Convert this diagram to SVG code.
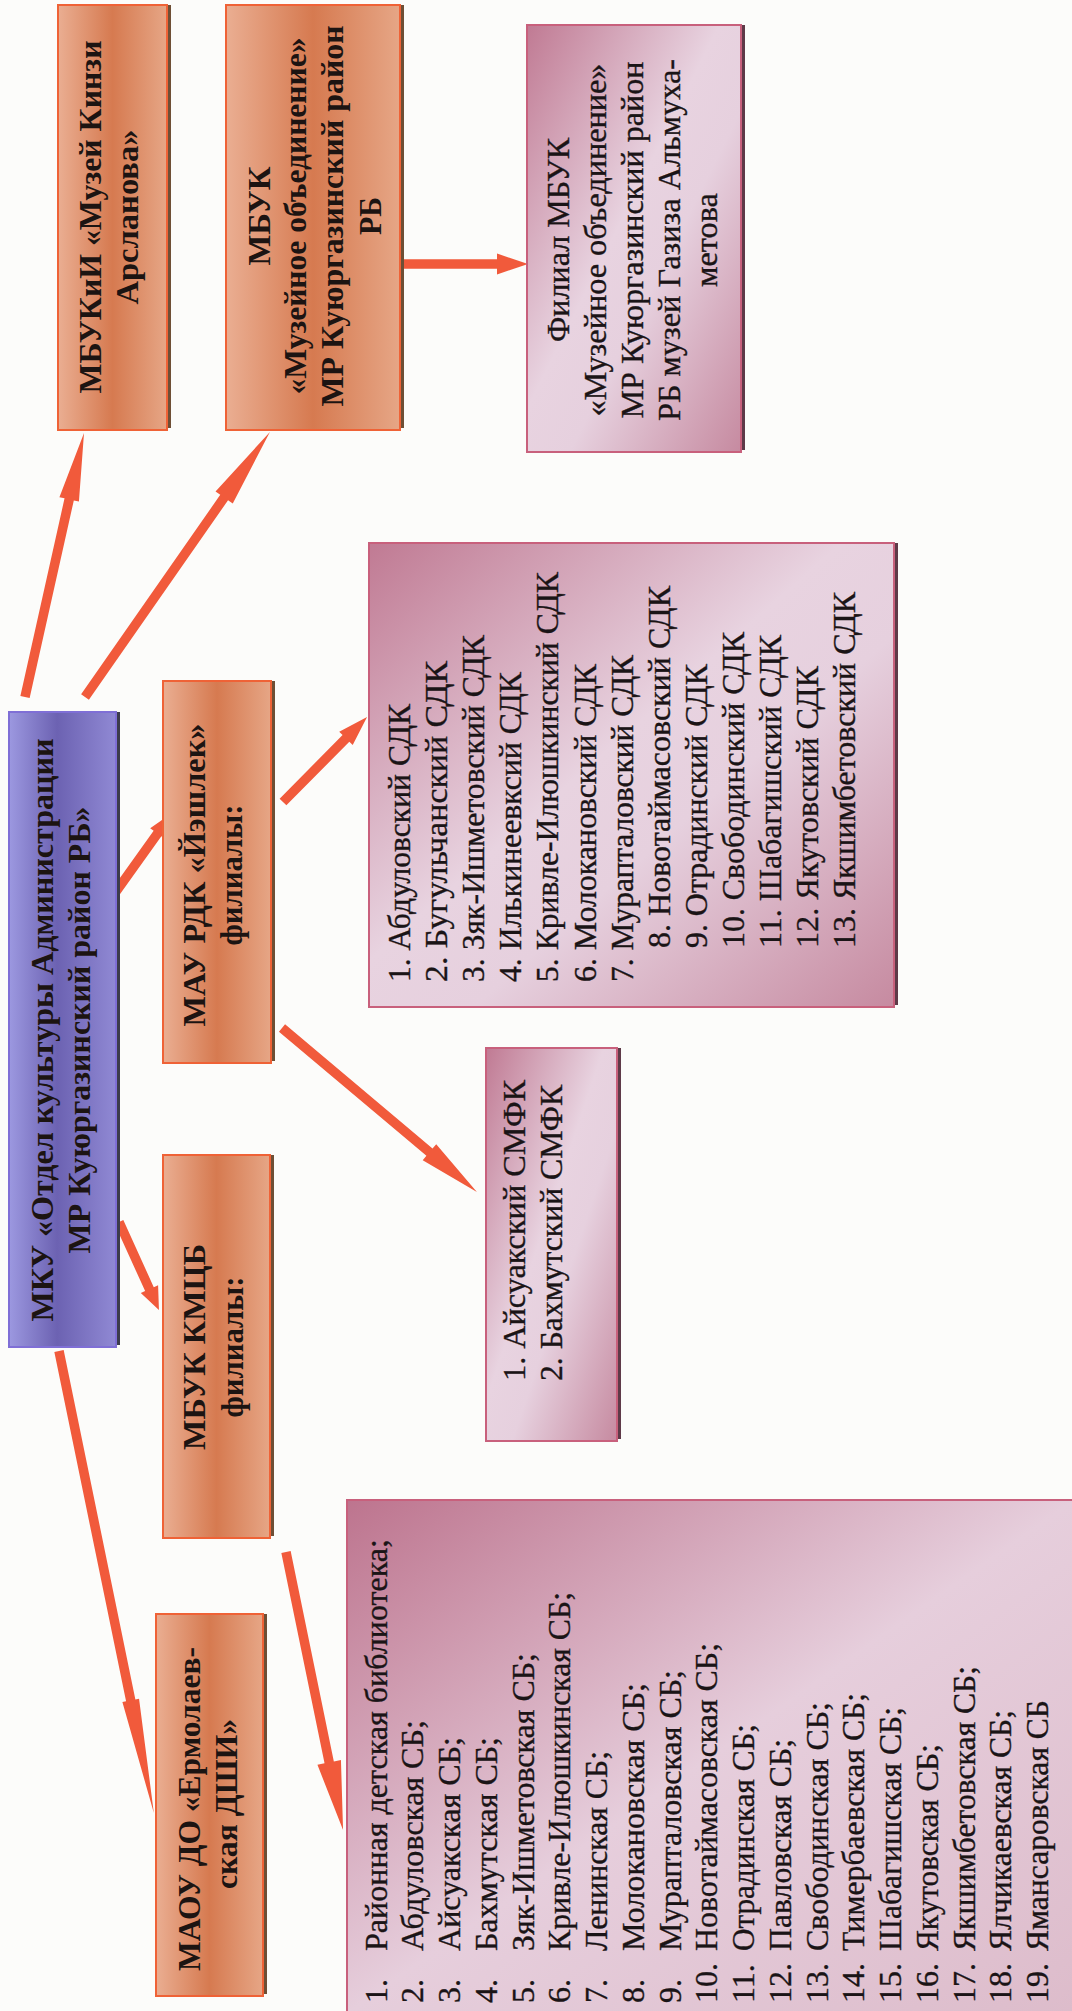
<svg xmlns="http://www.w3.org/2000/svg" width="1072" height="2011" viewBox="0 0 1072 2011">
<defs>
<linearGradient id="gOr" x1="0" y1="0" x2="1" y2="0">
<stop offset="0" stop-color="#eaae92"/><stop offset="0.5" stop-color="#d67a50"/><stop offset="1" stop-color="#e6a686"/>
</linearGradient>
<linearGradient id="gPu" x1="0" y1="0" x2="1" y2="0">
<stop offset="0" stop-color="#9c98e0"/><stop offset="0.45" stop-color="#6c62b2"/><stop offset="1" stop-color="#9089d4"/>
</linearGradient>
<linearGradient id="gPk" x1="0" y1="0" x2="1" y2="1">
<stop offset="0" stop-color="#c07a93"/><stop offset="0.45" stop-color="#e8d3e0"/><stop offset="0.6" stop-color="#e6d0de"/><stop offset="1" stop-color="#c68aa0"/>
</linearGradient>
<linearGradient id="gLib" x1="0" y1="0" x2="1" y2="1">
<stop offset="0" stop-color="#bd748e"/><stop offset="0.5" stop-color="#e6cedc"/><stop offset="1" stop-color="#ddbccb"/>
</linearGradient>
</defs>
<style>
.bg{fill:#fcfcfa}
.or{fill:url(#gOr);stroke:#ef6236;stroke-width:2}
.orS{fill:#6e4f35}
.pu{fill:url(#gPu);stroke:#7f6fd6;stroke-width:2}
.puS{fill:#3c3c4c}
.pk{fill:url(#gPk);stroke:#c8607c;stroke-width:2}
.lib{fill:url(#gLib);stroke:#c8607c;stroke-width:2}
.pkS{fill:#5e3a48}
.b{font-family:"Liberation Serif","Times New Roman",serif;font-weight:bold;font-size:32px;fill:#1c1412}
.r{font-family:"Liberation Serif","Times New Roman",serif;font-size:31px;fill:#1a1416;stroke:#1a1416;stroke-width:0.35}
.l{font-family:"Liberation Serif","Times New Roman",serif;font-size:32px;fill:#1a1416;stroke:#1a1416;stroke-width:0.35}
.m{text-anchor:middle}
.arr{fill:#f15a3b}
</style>
<rect class="bg" x="0" y="0" width="1072" height="2011"/>

<g id="connectors">
<polygon class="arr" transform="translate(25,697) rotate(-77.4)" points="0,-4.75 202.5,-4.75 202.5,-10 270.5,0 202.5,10 202.5,4.75 0,4.75"/>
<polygon class="arr" transform="translate(85,697) rotate(-55.1)" points="0,-4.75 243.2,-4.75 243.2,-10.5 323.2,0 243.2,10.5 243.2,4.75 0,4.75"/>
<polygon class="arr" transform="translate(400,264)" points="0,-4.75 97,-4.75 97,-10.5 128,0 97,10.5 97,4.75 0,4.75"/>
<polygon class="arr" transform="translate(115,893) rotate(-54.5)" points="0,-4.75 73.2,-4.75 73.2,-9 98.2,0 73.2,9 73.2,4.75 0,4.75"/>
<polygon class="arr" transform="translate(283,802) rotate(-45.3)" points="0,-4.75 89.5,-4.75 89.5,-9.5 119.5,0 89.5,9.5 89.5,4.75 0,4.75"/>
<polygon class="arr" transform="translate(282,1028) rotate(40.1)" points="0,-4.75 192.8,-4.75 192.8,-10.5 254.8,0 192.8,10.5 192.8,4.75 0,4.75"/>
<polygon class="arr" transform="translate(119,1222) rotate(65.6)" points="0,-4.75 73.7,-4.75 73.7,-9.5 96.7,0 73.7,9.5 73.7,4.75 0,4.75"/>
<polygon class="arr" transform="translate(59,1351) rotate(78.4)" points="0,-4.75 356.7,-4.75 356.7,-8.5 471.7,0 356.7,8.5 356.7,4.75 0,4.75"/>
<polygon class="arr" transform="translate(286,1552) rotate(78.4)" points="0,-4.75 214.8,-4.75 214.8,-12 283.8,0 214.8,12 214.8,4.75 0,4.75"/>
</g>

<g id="node-mbukii">
<rect class="orS" x="62" y="5" width="109" height="423"/>
<rect class="or" x="58" y="5" width="109" height="425"/>
<text class="b m" transform="translate(101,217) rotate(-90)" textLength="353" lengthAdjust="spacingAndGlyphs">МБУКиИ «Музей Кинзи</text>
<text class="b m" transform="translate(138,217) rotate(-90)" textLength="175" lengthAdjust="spacingAndGlyphs">Арсланова»</text>
</g>

<g id="node-mbuk-museum">
<rect class="orS" x="230" y="5" width="174" height="423"/>
<rect class="or" x="226" y="5" width="174" height="425"/>
<text class="b m" transform="translate(270,216) rotate(-90)" textLength="99" lengthAdjust="spacingAndGlyphs">МБУК</text>
<text class="b m" transform="translate(306,216) rotate(-90)" textLength="357" lengthAdjust="spacingAndGlyphs">«Музейное объединение»</text>
<text class="b m" transform="translate(343,216) rotate(-90)" textLength="381" lengthAdjust="spacingAndGlyphs">МР Куюргазинский район</text>
<text class="b m" transform="translate(381,216) rotate(-90)" textLength="38" lengthAdjust="spacingAndGlyphs">РБ</text>
</g>

<g id="node-filial">
<rect class="pkS" x="531" y="25" width="214" height="425"/>
<rect class="pk" x="527" y="25" width="214" height="427"/>
<text class="r m" transform="translate(569,240) rotate(-90)" textLength="204" lengthAdjust="spacingAndGlyphs">Филиал МБУК</text>
<text class="r m" transform="translate(606,240) rotate(-90)" textLength="353" lengthAdjust="spacingAndGlyphs">«Музейное объединение»</text>
<text class="r m" transform="translate(643,240) rotate(-90)" textLength="357" lengthAdjust="spacingAndGlyphs">МР Куюргазинский район</text>
<text class="r m" transform="translate(680,240) rotate(-90)" textLength="362" lengthAdjust="spacingAndGlyphs">РБ музей Газиза Альмуха-</text>
<text class="r m" transform="translate(717,240) rotate(-90)" textLength="94" lengthAdjust="spacingAndGlyphs">метова</text>
</g>

<g id="node-mku">
<rect class="puS" x="13" y="712" width="107" height="633"/>
<rect class="pu" x="9" y="712" width="107" height="635"/>
<text class="b m" transform="translate(53,1030) rotate(-90)" textLength="583" lengthAdjust="spacingAndGlyphs">МКУ «Отдел культуры Администрации</text>
<text class="b m" transform="translate(90,1030) rotate(-90)" textLength="447" lengthAdjust="spacingAndGlyphs">МР Куюргазинский район РБ»</text>
</g>

<g id="node-mau">
<rect class="orS" x="167" y="681" width="108" height="380"/>
<rect class="or" x="163" y="681" width="108" height="382"/>
<text class="b m" transform="translate(205,875) rotate(-90)" textLength="303" lengthAdjust="spacingAndGlyphs">МАУ РДК «Йэшлек»</text>
<text class="b m" transform="translate(242,875) rotate(-90)" textLength="141" lengthAdjust="spacingAndGlyphs">филиалы:</text>
</g>

<g id="node-kmcb">
<rect class="orS" x="167" y="1155" width="107" height="381"/>
<rect class="or" x="163" y="1155" width="107" height="383"/>
<text class="b m" transform="translate(205,1347) rotate(-90)" textLength="206" lengthAdjust="spacingAndGlyphs">МБУК КМЦБ</text>
<text class="b m" transform="translate(243,1347) rotate(-90)" textLength="141" lengthAdjust="spacingAndGlyphs">филиалы:</text>
</g>

<g id="node-maou">
<rect class="orS" x="160" y="1614" width="107" height="380"/>
<rect class="or" x="156" y="1614" width="107" height="382"/>
<text class="b m" transform="translate(200,1809) rotate(-90)" textLength="324" lengthAdjust="spacingAndGlyphs">МАОУ ДО «Ермолаев-</text>
<text class="b m" transform="translate(237,1804) rotate(-90)" textLength="170" lengthAdjust="spacingAndGlyphs">ская ДШИ»</text>
</g>

<g id="node-sdk">
<rect class="pkS" x="373" y="543" width="525" height="462"/>
<rect class="pk" x="369" y="543" width="525" height="464"/>
<text class="r" transform="translate(410,982) rotate(-90)" textLength="278" lengthAdjust="spacingAndGlyphs">1. Абдуловский СДК</text>
<text class="r" transform="translate(447.1,982) rotate(-90)" textLength="321" lengthAdjust="spacingAndGlyphs">2. Бугульчанский СДК</text>
<text class="r" transform="translate(484.2,982) rotate(-90)" textLength="347" lengthAdjust="spacingAndGlyphs">3. Зяк-Ишметовский СДК</text>
<text class="r" transform="translate(521.3,982) rotate(-90)" textLength="310" lengthAdjust="spacingAndGlyphs">4. Илькинеевксий СДК</text>
<text class="r" transform="translate(558.4,982) rotate(-90)" textLength="410" lengthAdjust="spacingAndGlyphs">5. Кривле-Илюшкинский СДК</text>
<text class="r" transform="translate(595.5,982) rotate(-90)" textLength="318" lengthAdjust="spacingAndGlyphs">6. Молокановский СДК</text>
<text class="r" transform="translate(632.6,982) rotate(-90)" textLength="327" lengthAdjust="spacingAndGlyphs">7. Мурапталовский СДК</text>
<text class="r" transform="translate(669.7,948) rotate(-90)" textLength="362" lengthAdjust="spacingAndGlyphs">8. Новотаймасовский СДК</text>
<text class="r" transform="translate(706.8,948) rotate(-90)" textLength="284" lengthAdjust="spacingAndGlyphs">9. Отрадинский СДК</text>
<text class="r" transform="translate(743.9,948) rotate(-90)" textLength="316" lengthAdjust="spacingAndGlyphs">10. Свободинский СДК</text>
<text class="r" transform="translate(781,948) rotate(-90)" textLength="313" lengthAdjust="spacingAndGlyphs">11. Шабагишский СДК</text>
<text class="r" transform="translate(818.1,948) rotate(-90)" textLength="282" lengthAdjust="spacingAndGlyphs">12. Якутовский СДК</text>
<text class="r" transform="translate(855.2,948) rotate(-90)" textLength="356" lengthAdjust="spacingAndGlyphs">13. Якшимбетовский СДК</text>
</g>

<g id="node-smfk">
<rect class="pkS" x="490" y="1048" width="131" height="391"/>
<rect class="pk" x="486" y="1048" width="131" height="393"/>
<text class="r" transform="translate(525,1381) rotate(-90)" textLength="301" lengthAdjust="spacingAndGlyphs">1. Айсуакский СМФК</text>
<text class="r" transform="translate(562,1381) rotate(-90)" textLength="296" lengthAdjust="spacingAndGlyphs">2. Бахмутский СМФК</text>
</g>

<g id="node-library">
<rect class="lib" x="347" y="1500" width="727" height="513"/>
<g class="l">
<text transform="translate(386.5,2003) rotate(-90)">1.</text>
<text transform="translate(386.5,1951) rotate(-90)" textLength="412" lengthAdjust="spacingAndGlyphs">Районная детская библиотека;</text>
<text transform="translate(423.3,2003) rotate(-90)">2.</text>
<text transform="translate(423.3,1951) rotate(-90)" textLength="231" lengthAdjust="spacingAndGlyphs">Абдуловская СБ;</text>
<text transform="translate(460,2003) rotate(-90)">3.</text>
<text transform="translate(460,1951) rotate(-90)" textLength="214" lengthAdjust="spacingAndGlyphs">Айсуакская СБ;</text>
<text transform="translate(496.8,2003) rotate(-90)">4.</text>
<text transform="translate(496.8,1951) rotate(-90)" textLength="214" lengthAdjust="spacingAndGlyphs">Бахмутская СБ;</text>
<text transform="translate(533.5,2003) rotate(-90)">5.</text>
<text transform="translate(533.5,1951) rotate(-90)" textLength="298" lengthAdjust="spacingAndGlyphs">Зяк-Ишметовская СБ;</text>
<text transform="translate(570.3,2003) rotate(-90)">6.</text>
<text transform="translate(570.3,1951) rotate(-90)" textLength="359" lengthAdjust="spacingAndGlyphs">Кривле-Илюшкинская СБ;</text>
<text transform="translate(607,2003) rotate(-90)">7.</text>
<text transform="translate(607,1951) rotate(-90)" textLength="200" lengthAdjust="spacingAndGlyphs">Ленинская СБ;</text>
<text transform="translate(643.8,2003) rotate(-90)">8.</text>
<text transform="translate(643.8,1951) rotate(-90)" textLength="268" lengthAdjust="spacingAndGlyphs">Молокановская СБ;</text>
<text transform="translate(680.5,2003) rotate(-90)">9.</text>
<text transform="translate(680.5,1951) rotate(-90)" textLength="281" lengthAdjust="spacingAndGlyphs">Мурапталовская СБ;</text>
<text transform="translate(717.3,2003) rotate(-90)">10.</text>
<text transform="translate(717.3,1951) rotate(-90)" textLength="308" lengthAdjust="spacingAndGlyphs">Новотаймасовская СБ;</text>
<text transform="translate(754,2003) rotate(-90)">11.</text>
<text transform="translate(754,1951) rotate(-90)" textLength="227" lengthAdjust="spacingAndGlyphs">Отрадинская СБ;</text>
<text transform="translate(790.8,2003) rotate(-90)">12.</text>
<text transform="translate(790.8,1951) rotate(-90)" textLength="212" lengthAdjust="spacingAndGlyphs">Павловская СБ;</text>
<text transform="translate(827.5,2003) rotate(-90)">13.</text>
<text transform="translate(827.5,1951) rotate(-90)" textLength="249" lengthAdjust="spacingAndGlyphs">Свободинская СБ;</text>
<text transform="translate(864.3,2003) rotate(-90)">14.</text>
<text transform="translate(864.3,1951) rotate(-90)" textLength="258" lengthAdjust="spacingAndGlyphs">Тимербаевская СБ;</text>
<text transform="translate(901,2003) rotate(-90)">15.</text>
<text transform="translate(901,1951) rotate(-90)" textLength="244" lengthAdjust="spacingAndGlyphs">Шабагишская СБ;</text>
<text transform="translate(937.8,2003) rotate(-90)">16.</text>
<text transform="translate(937.8,1951) rotate(-90)" textLength="207" lengthAdjust="spacingAndGlyphs">Якутовская СБ;</text>
<text transform="translate(974.5,2003) rotate(-90)">17.</text>
<text transform="translate(974.5,1951) rotate(-90)" textLength="285" lengthAdjust="spacingAndGlyphs">Якшимбетовская СБ;</text>
<text transform="translate(1011.3,2003) rotate(-90)">18.</text>
<text transform="translate(1011.3,1951) rotate(-90)" textLength="241" lengthAdjust="spacingAndGlyphs">Ялчикаевская СБ;</text>
<text transform="translate(1048,2003) rotate(-90)">19.</text>
<text transform="translate(1048,1951) rotate(-90)" textLength="251" lengthAdjust="spacingAndGlyphs">Ямансаровская СБ</text>
</g>
</g>
</svg>
